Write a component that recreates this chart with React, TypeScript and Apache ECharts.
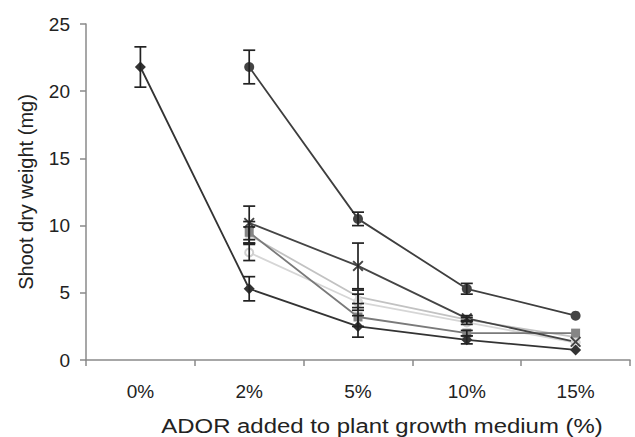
import React, { useEffect, useRef } from "react";
import * as echarts from "echarts";

const categories = ["0%", "2%", "5%", "10%", "15%"];
const yTicks = [0, 5, 10, 15, 20, 25];

const diamondMeans = [21.8, 5.3, 2.5, 1.5, 0.75];
const diamondErr = [1.5, 0.9, 0.8, 0.3, 0];
const darkCircleMeans = [null, 21.8, 10.5, 5.3, 3.3];
const darkCircleErr = [null, 1.25, 0.5, 0.4, 0];
const crossMeans = [null, 10.2, 7.0, 3.1, 1.35];
const crossErr = [null, 1.25, 1.7, 0.2, 0];
const squareMeans = [null, 9.5, 3.2, 2.0, 2.0];
const squareErr = [null, 0.8, 0.7, 0.2, 0];
const triangleMeans = [null, 9.3, 4.7, 3.0, 1.7];
const triangleErr = [null, 0.6, 0.5, 0.15, 0];
const lightCircleMeans = [null, 8.0, 4.3, 2.8, 1.3];
const lightCircleErr = [null, 0.6, 0.6, 0.15, 0];

const FONT = "'Liberation Sans', Arial, sans-serif";
const CROSS = "path://M0,1.2L1.2,0L5,3.8L8.8,0L10,1.2L6.2,5L10,8.8L8.8,10L5,6.2L1.2,10L0,8.8L3.8,5Z";

type Spec = { name: string; means: (number | null)[]; err: (number | null)[]; symbol: string; size: number; line: string; fill: string; width: number };

const specs: Spec[] = [
  { name: "A", means: lightCircleMeans, err: lightCircleErr, symbol: "emptyCircle", size: 8, line: "#d6d6d6", fill: "#cfcfcf", width: 1.8 },
  { name: "B", means: triangleMeans, err: triangleErr, symbol: "triangle", size: 10, line: "#c2c2c2", fill: "#d8d8d8", width: 1.8 },
  { name: "C", means: squareMeans, err: squareErr, symbol: "rect", size: 9, line: "#7a7a7a", fill: "#858585", width: 1.8 },
  { name: "D", means: crossMeans, err: crossErr, symbol: CROSS, size: 11, line: "#454545", fill: "#454545", width: 1.8 },
  { name: "E", means: darkCircleMeans, err: darkCircleErr, symbol: "circle", size: 10, line: "#3e3e3e", fill: "#444444", width: 1.8 },
  { name: "F", means: diamondMeans, err: diamondErr, symbol: "diamond", size: 11, line: "#333333", fill: "#333333", width: 1.8 },
];

export default function App() {
  const ref = useRef<HTMLDivElement>(null);
  useEffect(() => {
    if (!ref.current) return;
    const chart = echarts.init(ref.current, null, { renderer: "svg" });
    const series: any[] = [];
    specs.forEach((s) => {
      series.push({
        type: "line",
        name: s.name,
        data: s.means.map((v) => (v === null ? "-" : v)),
        symbol: s.symbol,
        symbolSize: s.size,
        showSymbol: true,
        connectNulls: false,
        lineStyle: { color: s.line, width: s.width },
        itemStyle: { color: s.fill, borderColor: s.fill, borderWidth: s.symbol === "emptyCircle" ? 2 : 0 },
        z: 2,
      });
    });
    const errData: number[][] = [];
    specs.forEach((s) => {
      s.means.forEach((m, i) => {
        const e = s.err[i];
        if (m !== null && e !== null && e > 0) errData.push([i, m - e, m + e]);
      });
    });
    series.push({
      type: "custom",
      name: "err",
      data: errData,
      encode: { x: 0, y: [1, 2] },
      z: 5,
      renderItem: (params: any, api: any) => {
        const x = api.value(0);
        const lo = api.coord([x, api.value(1)]);
        const hi = api.coord([x, api.value(2)]);
        const w = 6;
        const st = { stroke: "#222222", lineWidth: 1.7 };
        return {
          type: "group",
          children: [
            { type: "line", shape: { x1: lo[0], y1: lo[1], x2: hi[0], y2: hi[1] }, style: st },
            { type: "line", shape: { x1: lo[0] - w, y1: lo[1], x2: lo[0] + w, y2: lo[1] }, style: st },
            { type: "line", shape: { x1: hi[0] - w, y1: hi[1], x2: hi[0] + w, y2: hi[1] }, style: st },
          ],
        };
      },
    });
    chart.setOption({
      animation: false,
      grid: { left: 86, right: 5, top: 24, bottom: 77 },
      xAxis: {
        type: "category",
        data: categories,
        boundaryGap: true,
        axisLine: { lineStyle: { color: "#8a8a8a", width: 1.5 } },
        axisTick: { show: true, length: 6, inside: false, lineStyle: { color: "#8a8a8a", width: 1.5 } },
        axisLabel: { color: "#222", fontSize: 19, fontFamily: FONT, margin: 22 },
        splitLine: { show: false },
      },
      yAxis: {
        type: "value",
        min: yTicks[0],
        max: yTicks[yTicks.length - 1],
        interval: 5,
        name: "Shoot dry weight (mg)",
        nameLocation: "middle",
        nameGap: 50,
        nameTextStyle: { color: "#222", fontSize: 20, fontFamily: FONT },
        axisLine: { show: true, lineStyle: { color: "#8a8a8a", width: 1.5 } },
        axisTick: { show: true, length: 6, lineStyle: { color: "#8a8a8a", width: 1.5 } },
        axisLabel: { color: "#222", fontSize: 19, fontFamily: FONT, margin: 16 },
        splitLine: { show: false },
      },
      graphic: [
        {
          type: "text",
          x: 382,
          y: 426,
          style: {
            text: "ADOR added to plant growth medium (%)",
            fill: "#222",
            font: `21px ${FONT}`,
            textAlign: "center",
            textVerticalAlign: "middle",
          },
          scaleX: 1.14,
        },
      ],
      series,
    });
    return () => chart.dispose();
  }, []);
  return <div ref={ref} style={{ width: 635, height: 437, position: "absolute", left: 0, top: 0 }} />;
}
